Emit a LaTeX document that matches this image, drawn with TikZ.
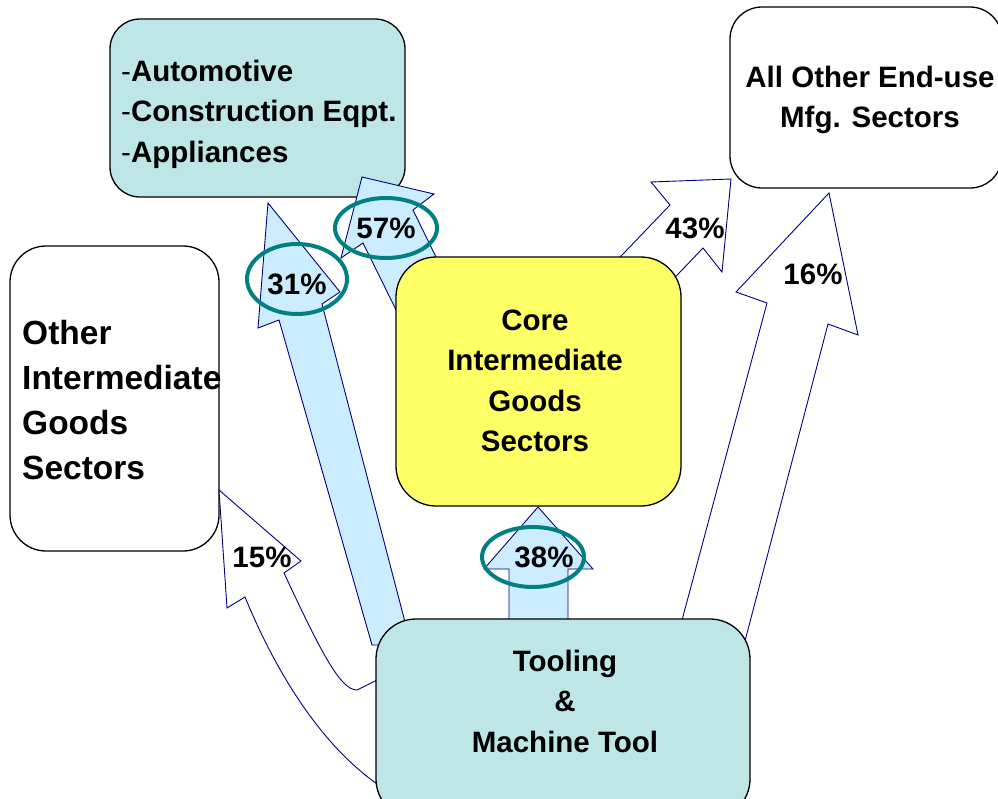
\documentclass[tikz,border=0pt]{standalone}
\usepackage{fontspec}
\setmainfont{Liberation Sans}
\definecolor{tealfill}{RGB}{190,230,230}
\definecolor{lblue}{RGB}{204,236,255}
\definecolor{yel}{RGB}{255,255,102}
\definecolor{navy}{RGB}{0,0,128}
\definecolor{ring}{RGB}{0,128,128}
\begin{document}
\begin{tikzpicture}[x=1pt,y=-1pt,
  sector/.style={draw=black,line width=1.3pt,inner sep=0pt},
  lbl/.style={inner sep=0pt,font=\bfseries\fontsize{29.5}{40.5}\selectfont},
  barrow/.style={draw=navy,line width=0.9pt,line join=miter},
  ringst/.style={draw=ring,line width=4pt}]
\useasboundingbox (0,0) rectangle (998,798);
% boxes behind arrows
\node[sector,fill=tealfill,rounded corners=30pt,minimum width=295pt,minimum height=178pt] (auto) at (257.5,108) {};
\node[sector,fill=white,rounded corners=32pt,minimum width=272pt,minimum height=181pt] (other) at (866,97.5) {};
\node[sector,fill=white,rounded corners=36pt,minimum width=209pt,minimum height=305pt] (inter) at (114.5,398.5) {};
% arrows
\path[barrow,fill=lblue] (372,645) -- (279,320) -- (258,328) -- (268,203) -- (340,292) -- (322,304) -- (411,645) -- cycle;
\path[barrow,fill=lblue] (406,330) -- (363,243) -- (341,258) -- (362,177) -- (434,194) -- (413,210) -- (457,300) -- cycle;
\path[barrow,fill=white] (600,278) -- (670,205) -- (651,182) -- (731,179) -- (722,272) -- (703,248) -- (660,293) -- cycle;
\path[barrow,fill=white] (674,650) -- (767,303) -- (736,292) -- (829,193) -- (858,335) -- (828,324) -- (740,660) -- cycle;
\path[barrow,fill=lblue] (509,640) -- (509,569) -- (484,569) -- (538,507) -- (593,569) -- (568,569) -- (568,640) -- cycle;
\path[barrow,fill=white] (380,786) .. controls (320,745) and (275,670) .. (245,597) -- (227,608) -- (219,490) -- (301,561) -- (284,573) .. controls (320,650) and (340,690) .. (357,690) -- (385,676) -- cycle;
% boxes in front
\node[sector,fill=yel,rounded corners=40pt,minimum width=285pt,minimum height=249pt] (core) at (538.5,381.5) {};
\node[sector,fill=tealfill,rounded corners=40pt,minimum width=374pt,minimum height=200pt] (tool) at (563,719) {};
% texts
\node[lbl,anchor=west,align=left] (autot) at (121,114) {{\mdseries-}Automotive\\{\mdseries-}Construction Eqpt.\\{\mdseries-}Appliances};
\node[lbl,align=center] (othert) at (870,100) {All Other End-use\\Mfg. Sectors};
\node[lbl,anchor=west,align=left,font=\bfseries\fontsize{33.5}{45}\selectfont] (intert) at (22,400) {Other\\Intermediate\\Goods\\Sectors};
\node[lbl,align=center] (coret) at (535,381) {Core\\Intermediate\\Goods\\Sectors};
\node[lbl,align=center] (toolt) at (565,701) {Tooling\\\&\\Machine Tool};
% percentages
\node[lbl] (p31) at (297,284) {31\%};
\node[lbl] (p57) at (386,228) {57\%};
\node[lbl] (p43) at (695,228) {43\%};
\node[lbl] (p16) at (813,274) {16\%};
\node[lbl] (p15) at (262,557) {15\%};
\node[lbl] (p38) at (544,557) {38\%};
% rings
\draw[ringst] (297,279) ellipse [x radius=50pt, y radius=35pt];
\draw[ringst] (386,228) ellipse [x radius=51pt, y radius=30pt];
\draw[ringst] (533,557) ellipse [x radius=51pt, y radius=30pt];
\end{tikzpicture}
\end{document}
